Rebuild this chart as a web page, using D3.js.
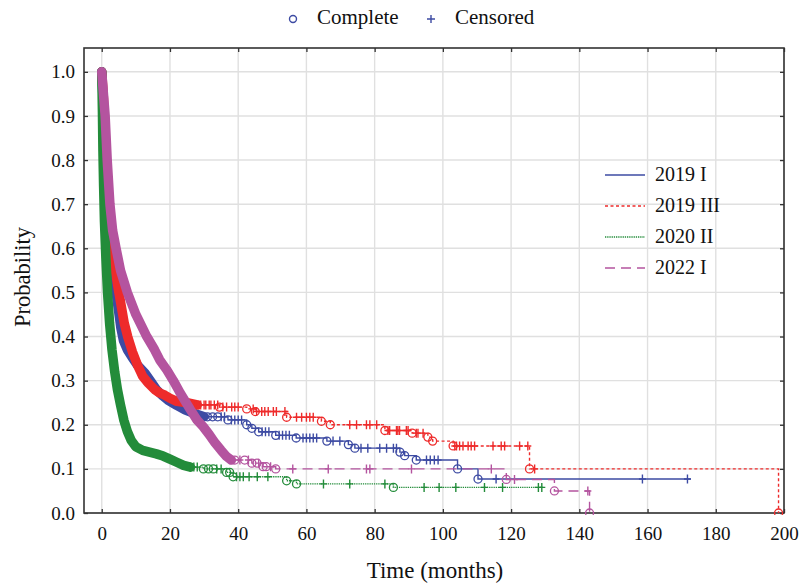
<!DOCTYPE html>
<html>
<head>
<meta charset="utf-8">
<script src="https://cdn.jsdelivr.net/npm/d3@7"></script>
<style>
  body { margin: 0; background: #fff; }
  text { font-family: "Liberation Serif", "Times New Roman", serif; fill: #111; }
</style>
</head>
<body>
<svg id="chart" width="807" height="584"></svg>
<script>
// ---- axis ticks ----
const xTicks = [0, 20, 40, 60, 80, 100, 120, 140, 160, 180, 200];
const yTicks = [0, 0.1, 0.2, 0.3, 0.4, 0.5, 0.6, 0.7, 0.8, 0.9, 1.0];

// ---- series ----
const seriesNames = ["2019 I", "2019 III", "2020 II", "2022 I"];
const seriesColors = ["#3d4ba3", "#ee2b2b", "#238c3a", "#b4549f"];
const seriesDash = ["none", "3,2.5", "1.3,0.9", "10,6"];

// 2019 I: dense early part [months, probability], then KM steps
const band2019I = [[0,1],[0.3,0.95],[0.7,0.88],[1.2,0.8],[1.8,0.72],[2.5,0.64],[3.3,0.56],[4.2,0.5],[4.9,0.46],[5.6,0.42],[6.4,0.39],[7.5,0.37],[8.8,0.354],[10.5,0.335],[12.7,0.317],[14.5,0.297],[16.1,0.279],[17.8,0.266],[19.4,0.256],[22,0.244],[24.4,0.234],[27,0.226],[30,0.218]];
const steps2019I = [[30,0.218],[37,0.211],[42.5,0.2],[44,0.192],[46,0.184],[51,0.176],[57,0.17],[66,0.163],[72.3,0.155],[74.2,0.147],[87.4,0.138],[88.8,0.13],[92.2,0.12],[104.3,0.1],[110.3,0.077]];
const end2019I = 172.7;
const events2019I = [31,32.5,34,37,42.5,44,46,51,57,66,72.3,74.2,87.4,88.8,92.2,104.3,110.3];
const censored2019I = [35,36,38,39,40,41,47,48,49,52,53,54,55,59,60,61,62,63,67.8,69.8,76,78,81.5,83.5,85.5,86.4,95.2,96.3,97.5,98.6,115.6,158.5,171.7];

// 2019 III
const band2019III = [[0,1],[0.5,0.94],[1,0.86],[1.6,0.76],[2.3,0.67],[3,0.61],[3.8,0.56],[4.8,0.51],[5.7,0.47],[6.6,0.43],[7.6,0.4],[9,0.365],[10.5,0.335],[12,0.31],[13.6,0.295],[15.5,0.28],[17,0.272],[18.5,0.267],[20,0.26],[22,0.253],[25,0.25],[28,0.245]];
const steps2019III = [[28,0.245],[34.5,0.24],[42.5,0.236],[45,0.23],[54.2,0.217],[64.4,0.208],[67,0.2],[83,0.187],[91,0.181],[95.6,0.172],[97,0.163],[103,0.152],[125.4,0.1],[198.4,0]];
const end2019III = 198.4;
const events2019III = [34.5,42.5,45,54.2,64.4,67,83,91,95.6,97,103,125.4,198.4];
const censored2019III = [26,27,27.5,28.5,29,30,30.5,31.5,32,33,34,35.5,36.6,38.1,39,40,44.4,45.4,46.9,47.8,48.8,50.3,51.2,53.7,57.1,58.6,60,61,62,72.7,74.7,77.6,78.6,80.6,83.9,84.4,86.4,86.8,87.3,89.3,89.8,92.2,92.7,94.2,103.5,104,104.9,105.9,107.4,108.3,109.3,114.7,117.1,118.1,122.5,124.9,126.9];

// 2020 II
const band2020II = [[0,1],[0.2,0.91],[0.35,0.82],[0.55,0.74],[0.8,0.66],[1.2,0.58],[1.7,0.5],[2.3,0.43],[3,0.37],[3.8,0.32],[4.6,0.28],[5.5,0.245],[6.5,0.21],[7.5,0.185],[8.6,0.165],[10,0.15],[12,0.142],[14,0.138],[16,0.134],[18,0.129],[20,0.122],[22,0.115],[24,0.108],[26,0.104]];
const steps2020II = [[26,0.104],[29.8,0.1],[36.6,0.092],[38.5,0.082],[54.2,0.073],[57.1,0.066],[85.5,0.058]];
const end2020II = 129.5;
const events2020II = [29.8,31.3,32.7,36.6,37.5,38.5,54.2,57.1,85.5];
const censored2020II = [25.9,27,28,33.7,35,39.5,40.5,41.5,43.2,45.6,48.7,65,72.7,83,94.5,98.9,103.8,112.2,117.5,128,129];

// 2022 I
const band2022I = [[0,1],[0.5,0.95],[1,0.9],[1.6,0.8],[2.4,0.7],[3.2,0.64],[4.2,0.6],[5.5,0.55],[7.5,0.5],[10,0.45],[13.2,0.4],[15.5,0.37],[17,0.347],[19,0.325],[21,0.3],[23,0.272],[26,0.234],[28,0.21],[29.7,0.196],[31.5,0.178],[33.2,0.159],[35,0.142],[36.6,0.128],[38,0.12]];
const steps2022I = [[38,0.12],[44,0.113],[47.3,0.105],[51,0.1],[118.6,0.076],[132.7,0.05],[143,0]];
const end2022I = 143;
const events2022I = [39,41.9,44,45.5,47.3,48.2,51,118.6,132.7,143];
const censored2022I = [40.5,43,46,49.5,56,66.4,77.6,78.6,90.8,114.2,121,142.5];

const series = [
  { band: band2019I,   steps: steps2019I,   end: end2019I,   events: events2019I,   censored: censored2019I },
  { band: band2019III, steps: steps2019III, end: end2019III, events: events2019III, censored: censored2019III },
  { band: band2020II,  steps: steps2020II,  end: end2020II,  events: events2020II,  censored: censored2020II },
  { band: band2022I,   steps: steps2022I,   end: end2022I,   events: events2022I,   censored: censored2022I }
].map((s, i) => ({ ...s, name: seriesNames[i], color: seriesColors[i], dash: seriesDash[i] }));

// ---- layout ----
const svg = d3.select("#chart");
const plotLeft = 84, plotRight = 784, plotTop = 48, plotBottom = 513;
const x = d3.scaleLinear().domain([-5.2, 200]).range([plotLeft, plotRight]);
const y = d3.scaleLinear().domain([0, 1.054]).range([plotBottom, plotTop]);

svg.append("defs").append("clipPath").attr("id", "plotClip")
  .append("rect").attr("x", plotLeft).attr("y", plotTop - 6)
  .attr("width", plotRight - plotLeft + 1).attr("height", plotBottom - plotTop + 8);

// grid
const grid = svg.append("g").attr("stroke", "#e0e0e0").attr("stroke-width", 1.4);
grid.selectAll("line.v").data(xTicks).join("line").attr("class", "v")
  .attr("x1", d => x(d)).attr("x2", d => x(d)).attr("y1", plotTop).attr("y2", plotBottom);
grid.selectAll("line.h").data(yTicks).join("line").attr("class", "h")
  .attr("x1", plotLeft).attr("x2", plotRight).attr("y1", d => y(d)).attr("y2", d => y(d));

// axes with inward ticks
const fmt = d3.format(".1f");
const axB = svg.append("g").attr("transform", `translate(0,${plotBottom})`)
  .call(d3.axisBottom(x).tickValues(xTicks).tickSizeInner(-4).tickSizeOuter(0).tickPadding(14));
const axL = svg.append("g").attr("transform", `translate(${plotLeft},0)`)
  .call(d3.axisLeft(y).tickValues(yTicks).tickFormat(fmt).tickSizeInner(-4).tickSizeOuter(0).tickPadding(9));
const axT = svg.append("g").attr("transform", `translate(0,${plotTop})`)
  .call(d3.axisTop(x).tickValues(xTicks).tickSizeInner(-4).tickSizeOuter(0).tickFormat(""));
const axR = svg.append("g").attr("transform", `translate(${plotRight},0)`)
  .call(d3.axisRight(y).tickValues(yTicks).tickSizeInner(-4).tickSizeOuter(0).tickFormat(""));
[axB, axL, axT, axR].forEach(g => {
  g.select(".domain").remove();
  g.selectAll(".tick line").attr("stroke", "#333").attr("stroke-width", 1.3);
  g.selectAll("text").style("font-family", '"Liberation Serif", serif').style("font-size", "19px").attr("fill", "#111");
});

// frame
svg.append("rect").attr("x", plotLeft).attr("y", plotTop)
  .attr("width", plotRight - plotLeft).attr("height", plotBottom - plotTop)
  .attr("fill", "none").attr("stroke", "#333").attr("stroke-width", 1.6);

// survival curves
const plot = svg.append("g").attr("clip-path", "url(#plotClip)");
const bandLine = d3.line().x(d => x(d[0])).y(d => y(d[1])).curve(d3.curveLinear);
const stepLine = d3.line().x(d => x(d[0])).y(d => y(d[1])).curve(d3.curveStepAfter);

function survivalAt(steps, t) {
  let s = steps[0][1];
  for (const k of steps) { if (k[0] <= t) s = k[1]; }
  return s;
}

series.forEach(s => {
  const g = plot.append("g");
  const last = s.steps[s.steps.length - 1];
  const tail = last[0] < s.end ? s.steps.concat([[s.end, last[1]]]) : s.steps;
  g.append("path").attr("d", stepLine(tail))
    .attr("fill", "none").attr("stroke", s.color).attr("stroke-width", 1.4)
    .attr("stroke-dasharray", s.dash);
  g.append("path").attr("d", bandLine(s.band))
    .attr("fill", "none").attr("stroke", s.color).attr("stroke-width", 9.5)
    .attr("stroke-linejoin", "round").attr("stroke-linecap", "round");
  g.selectAll("circle.ev").data(s.events).join("circle").attr("class", "ev")
    .attr("cx", t => x(t)).attr("cy", t => y(survivalAt(s.steps, t))).attr("r", 4)
    .attr("fill", "none").attr("stroke", s.color).attr("stroke-width", 1.3);
  g.selectAll("path.cn").data(s.censored).join("path").attr("class", "cn")
    .attr("transform", t => `translate(${x(t)},${y(survivalAt(s.steps, t))})`)
    .attr("d", "M-3.5,0H3.5M0,-4.5V4.5")
    .attr("stroke", s.color).attr("stroke-width", 1.4);
});

// legend: line styles
const leg = svg.append("g");
const legY = [175, 206, 237, 268];
series.forEach((s, i) => {
  leg.append("line").attr("x1", 605).attr("x2", 645).attr("y1", legY[i]).attr("y2", legY[i])
    .attr("stroke", s.color).attr("stroke-width", 1.4).attr("stroke-dasharray", s.dash);
  leg.append("text").attr("x", 655).attr("y", legY[i] + 6).style("font-size", "20px").text(s.name);
});

// legend: marker meaning
const mk = svg.append("g");
mk.append("circle").attr("cx", 293).attr("cy", 19).attr("r", 3.5)
  .attr("fill", "none").attr("stroke", "#3d4ba3").attr("stroke-width", 1.4);
mk.append("text").attr("x", 317).attr("y", 24).style("font-size", "21px").text("Complete");
mk.append("path").attr("transform", "translate(431,19)").attr("d", "M-4,0H4M0,-4V4")
  .attr("stroke", "#3d4ba3").attr("stroke-width", 1.4);
mk.append("text").attr("x", 455).attr("y", 24).style("font-size", "21px").text("Censored");

// axis titles
svg.append("text").attr("x", 435).attr("y", 578).attr("text-anchor", "middle")
  .style("font-size", "23px").text("Time (months)");
svg.append("text").attr("transform", "translate(30,277) rotate(-90)").attr("text-anchor", "middle")
  .style("font-size", "22.5px").text("Probability");
</script>
</body>
</html>
